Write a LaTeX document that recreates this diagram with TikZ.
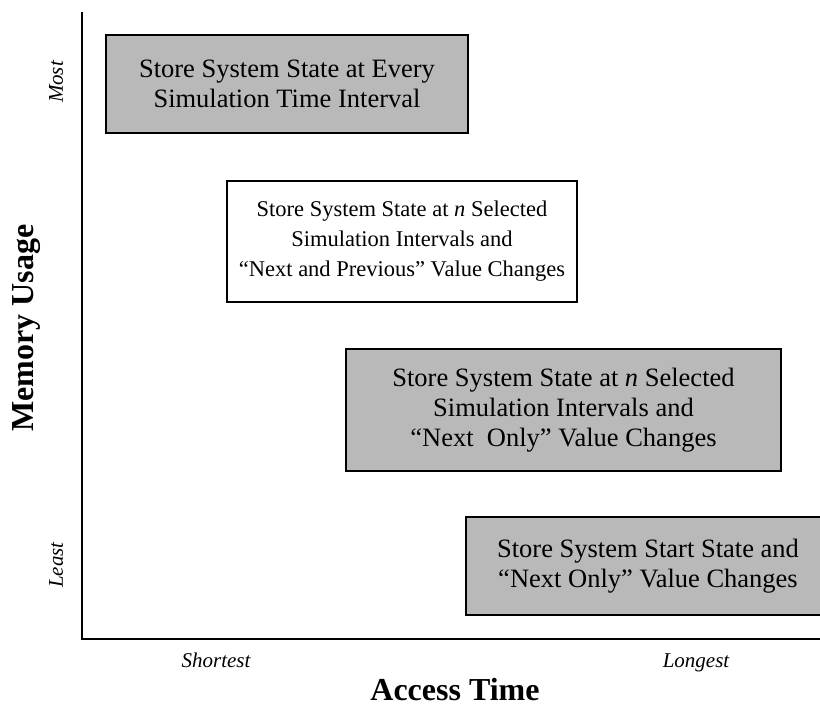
\documentclass[tikz,border=0pt]{standalone}
\usepackage{fontspec}
\setmainfont{Liberation Serif}
\definecolor{boxgray}{RGB}{185,185,185}
\begin{document}
\begin{tikzpicture}[x=1pt,y=-1pt,
  boxtext/.style={font=\fontsize{26.5}{30}\selectfont, align=center, inner sep=0pt, draw=black, line width=1.8pt},
  grayfill/.style={boxtext, fill=boxgray},
  whitefill/.style={boxtext, fill=white, font=\fontsize{22.5}{30}\selectfont},
  axislabel/.style={font=\fontsize{32}{36}\selectfont\bfseries, inner sep=0pt},
  endlabel/.style={font=\fontsize{21}{24}\selectfont\itshape, inner sep=0pt}]
\useasboundingbox (0,0) rectangle (820,706);
% axes
\coordinate (top) at (82,12);
\coordinate (origin) at (82,639);
\coordinate (right) at (822,639);
\draw[line width=2.4pt] (top) -- (origin) -- (right);
% boxes
\node[grayfill, minimum width=362pt, minimum height=98pt] (b1) at (287,84)
  {Store System State at Every\\Simulation Time Interval};
\node[whitefill, minimum width=350pt, minimum height=121pt] (b2) at (402,241.5)
  {Store System State at \textit{n} Selected\\Simulation Intervals and\\“Next and Previous” Value Changes};
\node[grayfill, minimum width=435pt, minimum height=122pt] (b3) at (563.5,410)
  {Store System State at \textit{n} Selected\\Simulation Intervals and\\“Next\ \ Only” Value Changes};
\node[grayfill, minimum width=364pt, minimum height=98pt] (b4) at (648,566)
  {Store System Start State and\\“Next Only” Value Changes};
% axis labels
\node[axislabel, rotate=90] (mem) at (27,328) {Memory Usage};
\node[axislabel, anchor=base] (acc) at (455,700.5) {Access Time};
\node[endlabel, rotate=90] (most) at (56,82) {Most};
\node[endlabel, rotate=90] (least) at (56,565) {Least};
\node[endlabel, anchor=base] (short) at (216,667) {Shortest};
\node[endlabel, anchor=base] (long) at (696,667) {Longest};
\end{tikzpicture}
\end{document}
